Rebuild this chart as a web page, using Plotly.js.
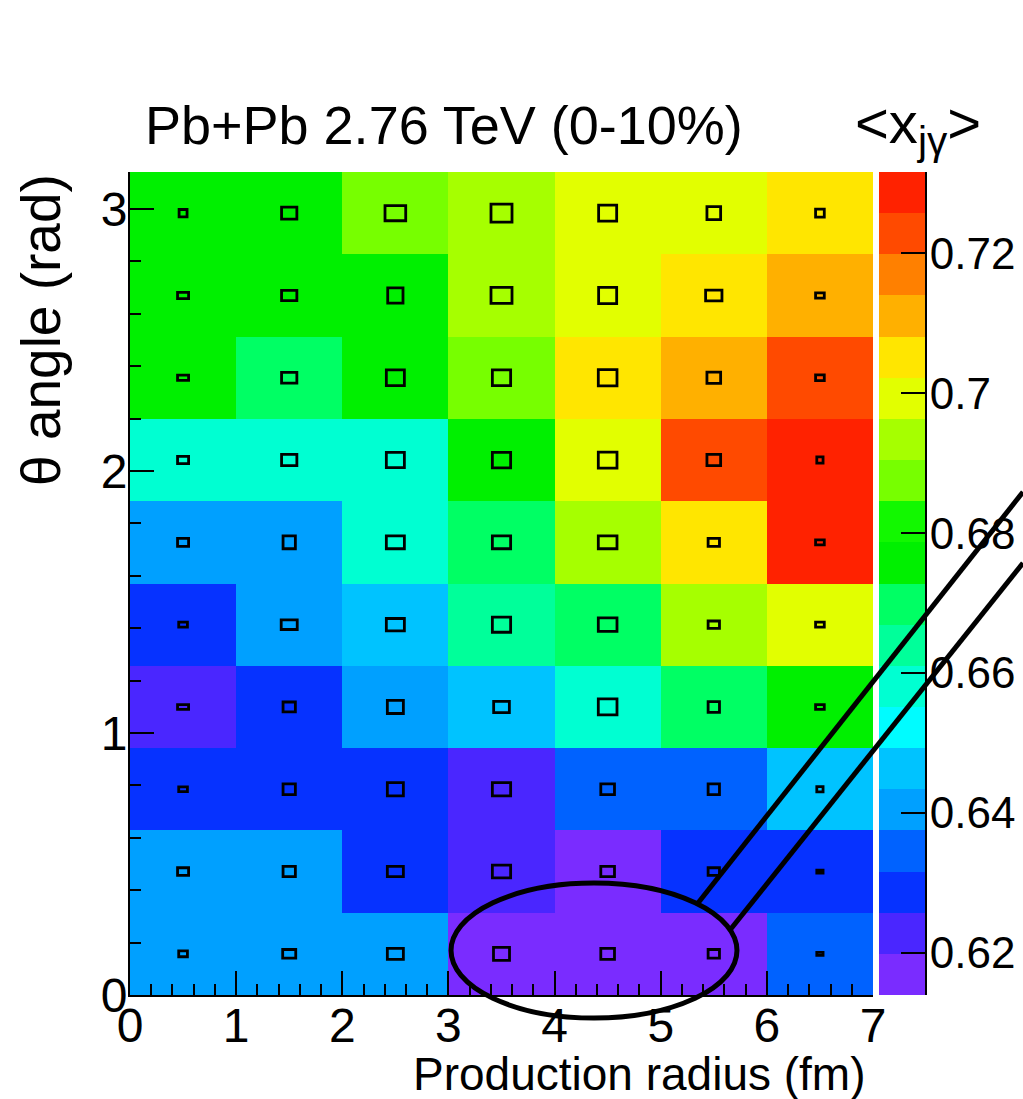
<!DOCTYPE html>
<html>
<head>
<meta charset="utf-8">
<script src="https://cdn.plot.ly/plotly-3.0.1.min.js"></script>
<style>
html, body { margin: 0; padding: 0; background: #ffffff; }
#chart { width: 1023px; height: 1099px; }
</style>
</head>
<body>
<div id="chart"></div>
<script>
// ---------------- data ----------------
const radiusEdges = [0, 1, 2, 3, 4, 5, 6, 7];                       // fm
const thetaEdges = [0, 0.3142, 0.6283, 0.9425, 1.2566, 1.5708,
                    1.8850, 2.1991, 2.5133, 2.8274, 3.1416];          // rad

// <x_jγ> per cell, rows = theta bins from bottom (0) to top (pi)
const meanXjg = [
  [0.640, 0.640, 0.640, 0.617, 0.617, 0.617, 0.635],
  [0.640, 0.640, 0.629, 0.623, 0.617, 0.629, 0.629],
  [0.629, 0.629, 0.629, 0.623, 0.635, 0.635, 0.646],
  [0.623, 0.629, 0.640, 0.646, 0.658, 0.670, 0.676],
  [0.629, 0.640, 0.646, 0.664, 0.670, 0.693, 0.699],
  [0.640, 0.640, 0.658, 0.670, 0.693, 0.705, 0.729],
  [0.658, 0.658, 0.658, 0.676, 0.699, 0.723, 0.729],
  [0.676, 0.670, 0.676, 0.688, 0.705, 0.711, 0.723],
  [0.676, 0.676, 0.676, 0.693, 0.699, 0.705, 0.711],
  [0.676, 0.676, 0.688, 0.693, 0.699, 0.699, 0.705]
];

// box widths (fm) and heights (rad) of the overlaid box histogram
const boxW = [
  [0.082, 0.123, 0.151, 0.151, 0.129, 0.107, 0.059],
  [0.104, 0.116, 0.151, 0.172, 0.129, 0.107, 0.059],
  [0.082, 0.116, 0.151, 0.172, 0.129, 0.107, 0.059],
  [0.104, 0.116, 0.151, 0.148, 0.176, 0.107, 0.082],
  [0.082, 0.151, 0.170, 0.172, 0.176, 0.107, 0.082],
  [0.104, 0.116, 0.170, 0.172, 0.176, 0.107, 0.082],
  [0.104, 0.144, 0.170, 0.172, 0.176, 0.129, 0.059],
  [0.104, 0.144, 0.170, 0.172, 0.176, 0.129, 0.082],
  [0.104, 0.144, 0.144, 0.198, 0.170, 0.154, 0.082],
  [0.075, 0.144, 0.195, 0.198, 0.170, 0.129, 0.082]
];
const boxH = [
  [0.022, 0.033, 0.042, 0.050, 0.042, 0.033, 0.011],
  [0.029, 0.039, 0.039, 0.049, 0.039, 0.029, 0.011],
  [0.018, 0.041, 0.050, 0.050, 0.041, 0.041, 0.020],
  [0.018, 0.038, 0.050, 0.043, 0.061, 0.041, 0.018],
  [0.019, 0.037, 0.047, 0.058, 0.052, 0.028, 0.019],
  [0.031, 0.049, 0.049, 0.049, 0.049, 0.031, 0.019],
  [0.028, 0.043, 0.058, 0.059, 0.061, 0.043, 0.024],
  [0.020, 0.041, 0.060, 0.060, 0.062, 0.043, 0.022],
  [0.024, 0.039, 0.058, 0.061, 0.062, 0.041, 0.020],
  [0.028, 0.046, 0.058, 0.069, 0.061, 0.050, 0.031]
];

const zMin = 0.6140;
const zMax = 0.7316;
const paletteColors = [
  '#7a2cff', '#4a26ff', '#0632ff', '#0062ff', '#00a0ff',
  '#00c3ff', '#00fcff', '#00ffd2', '#00ff9a', '#00ff64',
  '#00f000', '#12f800', '#77ff00', '#a6ff00', '#e2ff00',
  '#ffe600', '#ffb000', '#ff8000', '#ff4a00', '#ff2200'
];
const xTickVals = [0, 1, 2, 3, 4, 5, 6, 7];
const yTickVals = [0, 1, 2, 3];
const cbTickVals = [0.62, 0.64, 0.66, 0.68, 0.70, 0.72];
const cbTickText = ['0.62', '0.64', '0.66', '0.68', '0.7', '0.72'];

const titleText = 'Pb+Pb 2.76 TeV (0-10%)';
const xTitleText = 'Production radius (fm)';
const yTitleText = '\u03b8 angle (rad)';
const zTitleText = '&lt;x<sub>j\u03b3</sub>&gt;';

// ---------------- build ----------------
const FONT = 'Liberation Sans, Arial, Helvetica, sans-serif';

// stepped colour scale, one band per palette colour
const nBands = paletteColors.length;
const colorscale = [];
paletteColors.forEach((c, i) => {
  colorscale.push([i / nBands, c]);
  colorscale.push([(i + 1) / nBands, c]);
});

const heat = {
  type: 'heatmap',
  x: radiusEdges,
  y: thetaEdges,
  z: meanXjg,
  zmin: zMin, zmax: zMax,
  zsmooth: false,
  colorscale: colorscale,
  showscale: false,
  xaxis: 'x', yaxis: 'y'
};

// colour key (palette strip) drawn on its own axis pair
const bandEdges = [];
const bandMid = [];
for (let i = 0; i <= nBands; i++) bandEdges.push(zMin + i * (zMax - zMin) / nBands);
for (let i = 0; i < nBands; i++) bandMid.push([(bandEdges[i] + bandEdges[i + 1]) / 2]);
const key = {
  type: 'heatmap',
  x: [0, 1],
  y: bandEdges,
  z: bandMid,
  zmin: zMin, zmax: zMax,
  zsmooth: false,
  colorscale: colorscale,
  showscale: false,
  hoverinfo: 'y',
  xaxis: 'x2', yaxis: 'y2'
};

// boxes drawn as rectangles in data coordinates
const shapes = [];
for (let r = 0; r < meanXjg.length; r++) {
  for (let c = 0; c < meanXjg[r].length; c++) {
    const cx = (radiusEdges[c] + radiusEdges[c + 1]) / 2;
    const cy = (thetaEdges[r] + thetaEdges[r + 1]) / 2;
    shapes.push({
      type: 'rect', xref: 'x', yref: 'y', layer: 'above',
      x0: cx - boxW[r][c] / 2, x1: cx + boxW[r][c] / 2,
      y0: cy - boxH[r][c] / 2, y1: cy + boxH[r][c] / 2,
      line: { color: '#000', width: 2.8 }, fillcolor: 'rgba(0,0,0,0)'
    });
  }
}
// highlight ellipse and callout lines
shapes.push({ type: 'circle', xref: 'paper', yref: 'paper',
              x0: 0.3595, x1: 0.6797, y0: -0.028, y1: 0.136,
              line: { color: '#000', width: 5 }, fillcolor: 'rgba(0,0,0,0)', layer: 'above' });
shapes.push({ type: 'line', xref: 'paper', yref: 'paper', x0: 0.6361, y0: 0.1118, x1: 1.0, y1: 0.6112,
              line: { color: '#000', width: 5 }, layer: 'above' });
shapes.push({ type: 'line', xref: 'paper', yref: 'paper', x0: 0.6719, y0: 0.0790, x1: 1.0, y1: 0.5249,
              line: { color: '#000', width: 5 }, layer: 'above' });

const annotations = [
  { xref: 'paper', yref: 'paper', x: 0.8264, y: -0.0955, xanchor: 'right', yanchor: 'middle',
    text: xTitleText, showarrow: false, font: { family: FONT, size: 46, color: '#000' } },
  { xref: 'paper', yref: 'paper', x: -0.0997, y: 0.8080, xanchor: 'center', yanchor: 'middle',
    text: yTitleText, textangle: -90, showarrow: false, font: { family: FONT, size: 55, color: '#000' } },
  { xref: 'paper', yref: 'paper', x: 0.8096, y: 1.055, xanchor: 'left', yanchor: 'middle',
    text: zTitleText, showarrow: false, font: { family: FONT, size: 58, color: '#000' } }
];

const axisCommon = {
  showgrid: false, zeroline: false,
  showline: true, linecolor: '#000', linewidth: 2, mirror: false,
  ticks: 'inside', ticklen: 24, tickwidth: 2, tickcolor: '#000',
  tickfont: { family: FONT, size: 48, color: '#000' },
  minor: { ticks: 'inside', ticklen: 11, tickwidth: 2, tickcolor: '#000', dtick: 0.2, showgrid: false }
};

const layout = {
  width: 1023, height: 1099,
  margin: { l: 130, r: 0, t: 172, b: 104, autoexpand: false },
  paper_bgcolor: '#fff', plot_bgcolor: '#fff',
  font: { family: FONT, color: '#000' },
  title: { text: titleText, x: 0.1417, xref: 'container', xanchor: 'left',
           y: 0.886, yref: 'container', yanchor: 'middle',
           font: { family: FONT, size: 54, color: '#000' } },
  xaxis: Object.assign({}, axisCommon, {
    domain: [0, 0.83203], anchor: 'y', range: [0, 7],
    tickmode: 'array', tickvals: xTickVals, ticktext: xTickVals.map(String),
    ticklabelstandoff: -13 }),
  yaxis: Object.assign({}, axisCommon, {
    domain: [0, 1], anchor: 'x', range: [0, 3.1416],
    tickmode: 'array', tickvals: yTickVals, ticktext: yTickVals.map(String),
    ticklabelstandoff: -9 }),
  xaxis2: { domain: [0.83875, 0.89026], anchor: 'y2', range: [0, 1], visible: false, fixedrange: true },
  yaxis2: {
    domain: [0, 1], anchor: 'x2', side: 'right', range: [zMin, zMax],
    showgrid: false, zeroline: false,
    showline: true, linecolor: '#000', linewidth: 2,
    ticks: 'inside', ticklen: 24, tickwidth: 2, tickcolor: '#000',
    tickmode: 'array', tickvals: cbTickVals, ticktext: cbTickText,
    ticklabelstandoff: -6,
    tickfont: { family: FONT, size: 44, color: '#000' }
  },
  shapes: shapes,
  annotations: annotations,
  showlegend: false
};

Plotly.newPlot('chart', [heat, key], layout, { displayModeBar: false, staticPlot: true });
</script>
</body>
</html>
